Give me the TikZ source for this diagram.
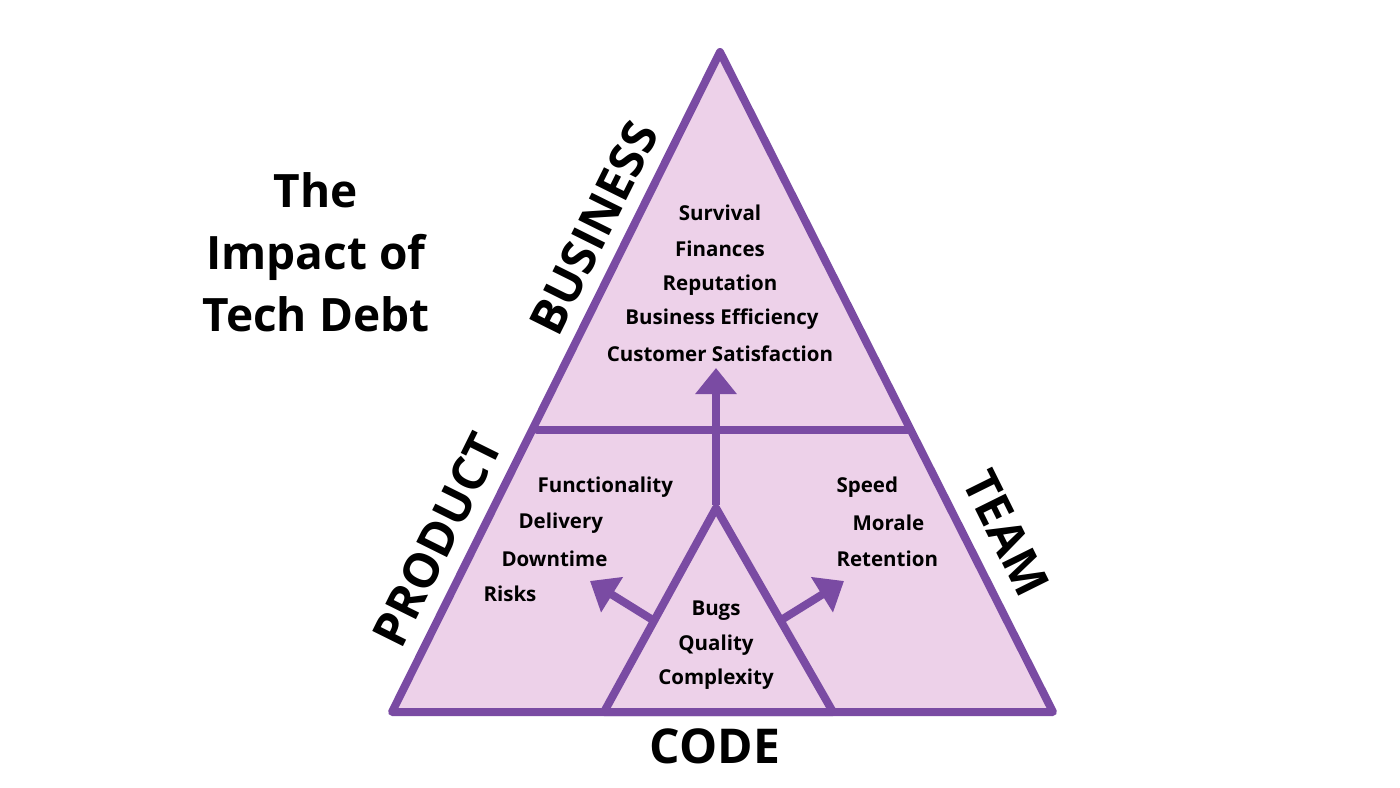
\documentclass[tikz,border=0pt]{standalone}
\usepackage{fontspec}
\setmainfont{Open Sans}
\usetikzlibrary{arrows.meta}
\definecolor{pur}{HTML}{7A4BA3}
\definecolor{pinkf}{HTML}{EDD1E9}
\begin{document}
\begin{tikzpicture}[x=1pt,y=-1pt,
  edge/.style={draw=pur,line width=8pt,line join=round,line cap=round},
  arr/.style={draw=pur,line width=8pt,-{Triangle[length=26pt,width=40pt]}},
  item/.style={font=\bfseries\fontsize{20.5}{22}\selectfont,anchor=center},
  side/.style={font=\bfseries\fontsize{48}{54}\selectfont}]
\useasboundingbox (0,0) rectangle (1400,787);
\coordinate (A) at (720,52);
\coordinate (L) at (392,712);
\coordinate (R) at (1053,712);
\coordinate (ML) at (537,430);
\coordinate (MR) at (909,430);
\coordinate (IA) at (716,508);
\coordinate (IL) at (604,712);
\coordinate (IR) at (833,712);
\fill[pinkf] (A)--(L)--(R)--cycle;
\draw[edge] (A)--(L)--(R)--cycle;
\draw[edge] (ML)--(MR);
\draw[edge] (IA)--(IL)--(IR)--cycle;
\coordinate (v0) at (716,505);
\coordinate (v1) at (716,368);
\draw[arr] (v0)--(v1);
\coordinate (l0) at (656,622);
\coordinate (l1) at (590,581);
\draw[arr] (l0)--(l1);
\coordinate (r0) at (778,622);
\coordinate (r1) at (844,581);
\draw[arr] (r0)--(r1);
\node[font=\bfseries\fontsize{46}{62}\selectfont,align=center] (title) at (316,252) {The\\Impact of\\Tech Debt};
\node[side,rotate=63.6] (bus) at (594,228) {BUSINESS};
\node[side,rotate=63.6] (prod) at (437,540) {PRODUCT};
\node[side,rotate=-63.6] (team) at (1006,533) {TEAM};
\node[side] (code) at (715,746) {CODE};
\node[item] (s1) at (720,213) {Survival};
\node[item] (s2) at (720,249) {Finances};
\node[item] (s3) at (720,285) {Reputation};
\node[item] (s4) at (722,319) {Business Efficiency};
\node[item] (s5) at (720,354) {Customer Satisfaction};
\node[item,anchor=west] (p1) at (534,487) {Functionality};
\node[item,anchor=west] (p2) at (515,523) {Delivery};
\node[item,anchor=west] (p3) at (498,559) {Downtime};
\node[item,anchor=west] (p4) at (480,594) {Risks};
\node[item,anchor=west] (t1) at (833,487) {Speed};
\node[item,anchor=west] (t2) at (849,523) {Morale};
\node[item,anchor=west] (t3) at (833,559) {Retention};
\node[item] (c1) at (716,611) {Bugs};
\node[item] (c2) at (716,645) {Quality};
\node[item] (c3) at (716,679) {Complexity};
\end{tikzpicture}
\end{document}
